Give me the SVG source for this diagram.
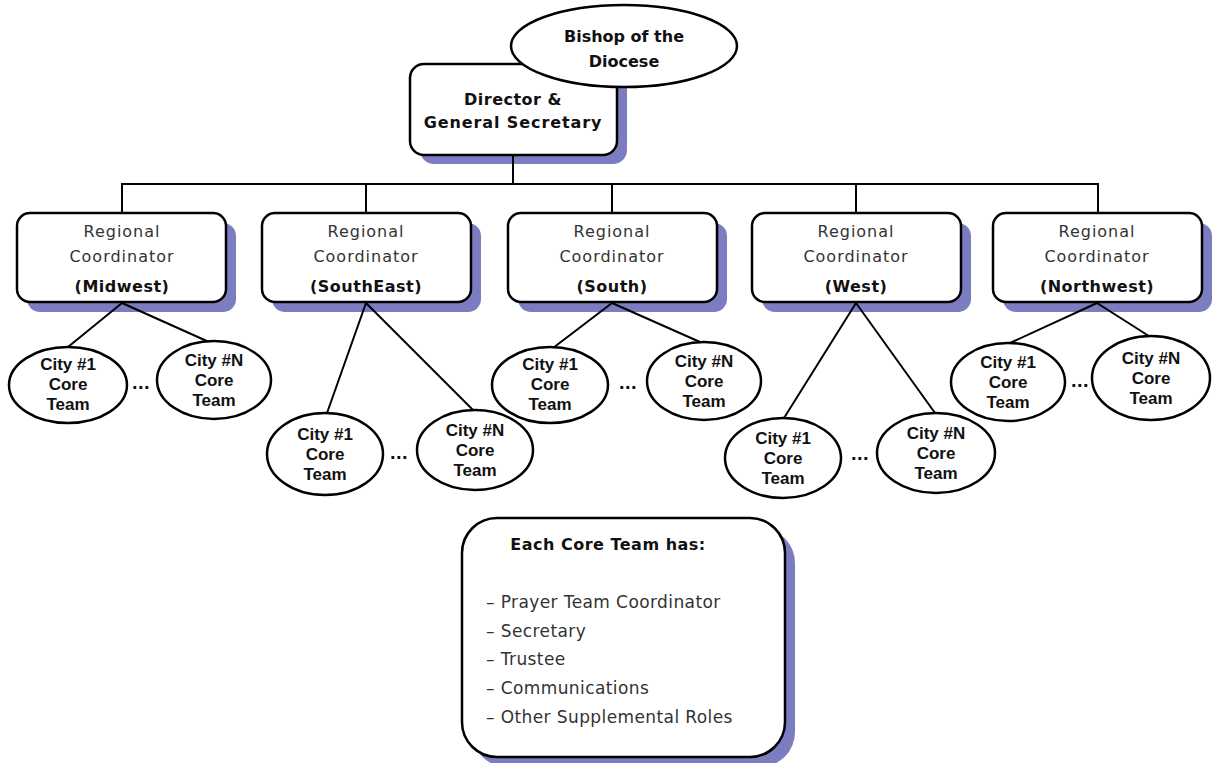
<svg xmlns="http://www.w3.org/2000/svg" width="1212" height="763" viewBox="0 0 1212 763">
<style>
.box{fill:#fff;stroke:#000;stroke-width:2.5}
.sh{fill:#7c7cc0}
.ell{fill:#fff;stroke:#000;stroke-width:2.5}
.ln{stroke:#000;stroke-width:2;fill:none}
.t{font-family:"DejaVu Sans","Liberation Sans",sans-serif;font-size:16px;fill:#222;text-anchor:middle}
.tr{letter-spacing:1px;font-weight:normal;fill:#333}
.tb{font-weight:bold;letter-spacing:0.5px;fill:#111}
.c{font-family:"Liberation Sans",Arial,sans-serif;font-weight:bold;font-size:17px;fill:#111;text-anchor:middle}
.d{font-family:"Liberation Sans",Arial,sans-serif;font-weight:bold;font-size:20px;fill:#111;text-anchor:middle;letter-spacing:0.5px}
.it{font-family:"DejaVu Sans","Liberation Sans",sans-serif;font-size:17px;fill:#333;letter-spacing:0.4px}
</style>
<rect width="1212" height="763" fill="#fff"/>
<g id="director">
<rect class="sh" x="420" y="73" width="207" height="91" rx="14"/>
<rect class="box" x="410" y="64" width="207" height="91" rx="14"/>
<text class="t tb" x="513" y="105" letter-spacing="0.8">Director &amp;</text>
<text class="t tb" x="513" y="128" style="letter-spacing:0.9px">General Secretary</text>
</g>
<g id="bishop">
<ellipse class="ell" cx="624" cy="46" rx="113" ry="41"/>
<text class="t tb" x="624" y="42" style="letter-spacing:0">Bishop of the</text>
<text class="t tb" x="624" y="67" style="letter-spacing:0">Diocese</text>
</g>
<g id="rc-midwest">
<rect class="sh" x="27" y="223" width="209" height="89" rx="13"/>
<rect class="box" x="17" y="213" width="209" height="89" rx="13"/>
<text class="t tr" x="122" y="237">Regional</text>
<text class="t tr" x="122" y="262">Coordinator</text>
<text class="t tb" x="122" y="292">(Midwest)</text>
</g>
<g id="rc-southeast">
<rect class="sh" x="272" y="223" width="209" height="89" rx="13"/>
<rect class="box" x="262" y="213" width="209" height="89" rx="13"/>
<text class="t tr" x="366" y="237">Regional</text>
<text class="t tr" x="366" y="262">Coordinator</text>
<text class="t tb" x="366" y="292">(SouthEast)</text>
</g>
<g id="rc-south">
<rect class="sh" x="518" y="223" width="209" height="89" rx="13"/>
<rect class="box" x="508" y="213" width="209" height="89" rx="13"/>
<text class="t tr" x="612" y="237">Regional</text>
<text class="t tr" x="612" y="262">Coordinator</text>
<text class="t tb" x="612" y="292">(South)</text>
</g>
<g id="rc-west">
<rect class="sh" x="762" y="223" width="209" height="89" rx="13"/>
<rect class="box" x="752" y="213" width="209" height="89" rx="13"/>
<text class="t tr" x="856" y="237">Regional</text>
<text class="t tr" x="856" y="262">Coordinator</text>
<text class="t tb" x="856" y="292">(West)</text>
</g>
<g id="rc-northwest">
<rect class="sh" x="1003" y="223" width="209" height="89" rx="13"/>
<rect class="box" x="993" y="213" width="209" height="89" rx="13"/>
<text class="t tr" x="1097" y="237">Regional</text>
<text class="t tr" x="1097" y="262">Coordinator</text>
<text class="t tb" x="1097" y="292">(Northwest)</text>
</g>
<g id="connectors">
<path class="ln" d="M513,156 V184 M122,212 V184 H1098 V212 M366,184 V212 M612,184 V212 M856,184 V212"/>
<path class="ln" d="M122,303 L68,347 M122,303 L209,342"/>
<path class="ln" d="M366,303 L327,413 M366,303 L474,411"/>
<path class="ln" d="M612,303 L553,348 M612,303 L700,342"/>
<path class="ln" d="M856,303 L784,418 M856,303 L935,413"/>
<path class="ln" d="M1097,303 L1010,343 M1097,303 L1152,338"/>
</g>
<g id="midwest-city1">
<ellipse class="ell" cx="68" cy="385" rx="59" ry="38"/>
<text class="c" x="68" y="370">City #1</text><text class="c" x="68" y="390">Core</text><text class="c" x="68" y="410">Team</text>
</g>
<g id="midwest-cityN">
<ellipse class="ell" cx="214" cy="380" rx="57" ry="39"/>
<text class="c" x="214" y="366">City #N</text><text class="c" x="214" y="386">Core</text><text class="c" x="214" y="406">Team</text>
</g>
<text class="d" x="141" y="389">...</text>
<g id="southeast-city1">
<ellipse class="ell" cx="325" cy="454" rx="58" ry="41"/>
<text class="c" x="325" y="440">City #1</text><text class="c" x="325" y="460">Core</text><text class="c" x="325" y="480">Team</text>
</g>
<g id="southeast-cityN">
<ellipse class="ell" cx="475" cy="450" rx="58" ry="40"/>
<text class="c" x="475" y="436">City #N</text><text class="c" x="475" y="456">Core</text><text class="c" x="475" y="476">Team</text>
</g>
<text class="d" x="399" y="459">...</text>
<g id="south-city1">
<ellipse class="ell" cx="550" cy="385" rx="58" ry="38"/>
<text class="c" x="550" y="370">City #1</text><text class="c" x="550" y="390">Core</text><text class="c" x="550" y="410">Team</text>
</g>
<g id="south-cityN">
<ellipse class="ell" cx="704" cy="381" rx="57" ry="39"/>
<text class="c" x="704" y="367">City #N</text><text class="c" x="704" y="387">Core</text><text class="c" x="704" y="407">Team</text>
</g>
<text class="d" x="628" y="389">...</text>
<g id="west-city1">
<ellipse class="ell" cx="783" cy="458" rx="58" ry="40"/>
<text class="c" x="783" y="444">City #1</text><text class="c" x="783" y="464">Core</text><text class="c" x="783" y="484">Team</text>
</g>
<g id="west-cityN">
<ellipse class="ell" cx="936" cy="453" rx="59" ry="40"/>
<text class="c" x="936" y="439">City #N</text><text class="c" x="936" y="459">Core</text><text class="c" x="936" y="479">Team</text>
</g>
<text class="d" x="860" y="460">...</text>
<g id="northwest-city1">
<ellipse class="ell" cx="1008" cy="382" rx="57" ry="39"/>
<text class="c" x="1008" y="368">City #1</text><text class="c" x="1008" y="388">Core</text><text class="c" x="1008" y="408">Team</text>
</g>
<g id="northwest-cityN">
<ellipse class="ell" cx="1151" cy="378" rx="59" ry="42"/>
<text class="c" x="1151" y="364">City #N</text><text class="c" x="1151" y="384">Core</text><text class="c" x="1151" y="404">Team</text>
</g>
<text class="d" x="1080" y="387">...</text>
<g id="core-team-info">
<rect class="sh" x="472" y="528" width="323" height="239" rx="35"/>
<rect class="box" x="462" y="518" width="323" height="239" rx="35"/>
<text class="t tb" x="608" y="550">Each Core Team has:</text>
<text class="it" x="486" y="608">– Prayer Team Coordinator</text>
<text class="it" x="486" y="637">– Secretary</text>
<text class="it" x="486" y="665">– Trustee</text>
<text class="it" x="486" y="694">– Communications</text>
<text class="it" x="486" y="723">– Other Supplemental Roles</text>
</g>
</svg>
